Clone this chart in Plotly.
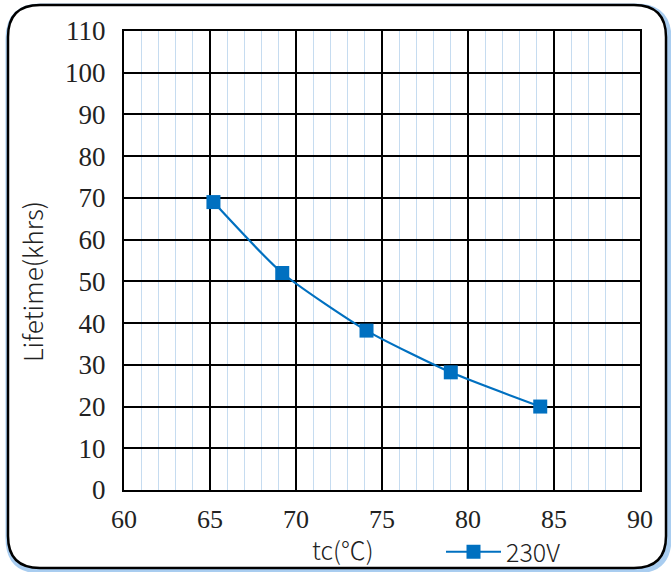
import plotly.graph_objects as go

# Data
temps = [65.2, 69.2, 74.1, 79.0, 84.2]
lifetime = [69, 52, 38.2, 28.2, 20]
series_name = "230V"
x_ticks = [60, 65, 70, 75, 80, 85, 90]
y_ticks = [0, 10, 20, 30, 40, 50, 60, 70, 80, 90, 100, 110]
x_title = "tc(℃)"
y_title = "Lifetime(khrs)"

W, H = 671, 572
L, R, T, B = 124, 31, 31, 82
pw, ph = W - L - R, H - T - B

def px2paper(px, py):
    return (px - L) / pw, (H - B - py) / ph

def rounded_path(x0, y0, x1, y1, r):
    def P(x, y):
        a, b = px2paper(x, y)
        return f"{a:.5f},{b:.5f}"
    return (f"M {P(x0 + r, y0)} L {P(x1 - r, y0)} Q {P(x1, y0)} {P(x1, y0 + r)} "
            f"L {P(x1, y1 - r)} Q {P(x1, y1)} {P(x1 - r, y1)} "
            f"L {P(x0 + r, y1)} Q {P(x0, y1)} {P(x0, y1 - r)} "
            f"L {P(x0, y0 + r)} Q {P(x0, y0)} {P(x0 + r, y0)} Z")

blue = "#0070C0"

fig = go.Figure()
fig.add_trace(go.Scatter(
    x=temps, y=lifetime, name=series_name, mode="lines+markers",
    line=dict(color=blue, width=2.2, shape="spline", smoothing=0.6),
    marker=dict(symbol="square", size=14, color=blue),
))

shapes = [
    dict(type="path", xref="paper", yref="paper",
         path=rounded_path(9, 7, 668, 570, 32),
         line=dict(color="#a9cdf0", width=7), layer="below"),
    dict(type="path", xref="paper", yref="paper",
         path=rounded_path(8, 5, 666, 568, 32),
         line=dict(color="black", width=2.5), fillcolor="white", layer="below"),
]

serif = "Liberation Serif"
sans = "Noto Sans CJK JP"

xt_x, xt_y = px2paper(343, 549)
yt_x, yt_y = px2paper(31, 282)
lg_x, lg_y = px2paper(441, 552)

annotations = [
    dict(text=x_title, xref="paper", yref="paper", x=xt_x, y=xt_y,
         xanchor="center", yanchor="middle", showarrow=False,
         font=dict(family=sans, size=25, color="#222", weight=300)),
    dict(text=y_title, xref="paper", yref="paper", x=yt_x, y=yt_y,
         xanchor="center", yanchor="middle", showarrow=False, textangle=-90,
         font=dict(family=sans, size=26, color="#222", weight=300)),
]

fig.update_layout(
    width=W, height=H,
    margin=dict(l=L, r=R, t=T, b=B, autoexpand=False),
    paper_bgcolor="white", plot_bgcolor="rgba(0,0,0,0)",
    shapes=shapes, annotations=annotations,
    showlegend=True,
    legend=dict(orientation="h", x=lg_x, y=lg_y, xanchor="left", yanchor="middle",
                font=dict(family=sans, size=25, color="#222", weight=300),
                itemwidth=55, bgcolor="rgba(0,0,0,0)"),
    xaxis=dict(range=[60, 90], tickvals=x_ticks, ticktext=[str(v) for v in x_ticks],
               showgrid=True, gridcolor="black", gridwidth=2,
               minor=dict(dtick=1, showgrid=True, gridcolor="#c6dcf0", gridwidth=1),
               showline=True, linecolor="black", linewidth=2, mirror=True,
               zeroline=False, ticks="outside", ticklen=5, tickcolor="rgba(0,0,0,0)",
               tickfont=dict(family=serif, size=26, color="#222")),
    yaxis=dict(range=[0, 110], tickvals=y_ticks, ticktext=[str(v) for v in y_ticks],
               showgrid=True, gridcolor="black", gridwidth=2,
               showline=True, linecolor="black", linewidth=2, mirror=True,
               zeroline=False, ticks="outside", ticklen=11, tickcolor="rgba(0,0,0,0)",
               tickfont=dict(family=serif, size=27, color="#222")),
)

fig.write_html("out.html", config={"displayModeBar": False},
               post_script="document.body.style.margin='0px';")
